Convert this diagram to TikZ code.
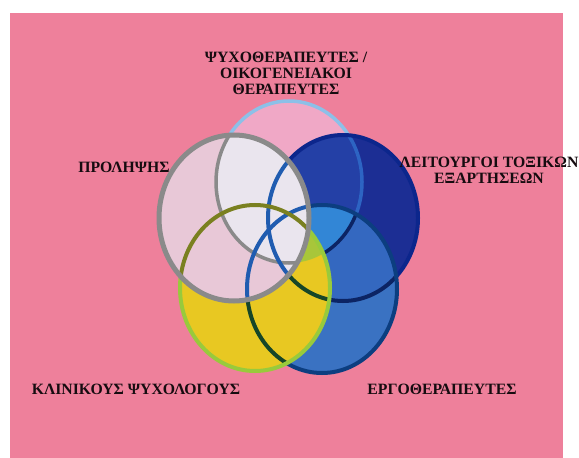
\documentclass[tikz,border=0pt]{standalone}
\usepackage{fontspec}
\setmainfont{Liberation Serif}
\definecolor{pinkbg}{RGB}{238,128,155}
\definecolor{tfillc}{RGB}{240,168,198}
\definecolor{tlinec}{RGB}{140,192,232}
\definecolor{lfillc}{RGB}{28,46,148}
\definecolor{ltfillc}{RGB}{36,64,166}
\definecolor{tinlc}{RGB}{45,100,195}
\definecolor{llinec}{RGB}{12,38,140}
\definecolor{efillc}{RGB}{58,114,194}
\definecolor{elfillc}{RGB}{52,104,192}
\definecolor{eltfillc}{RGB}{50,134,214}
\definecolor{darknavy}{RGB}{12,36,100}
\definecolor{elinec}{RGB}{12,62,128}
\definecolor{kfillc}{RGB}{232,200,34}
\definecolor{klimec}{RGB}{168,198,58}
\definecolor{darkgreen}{RGB}{22,70,40}
\definecolor{klinec}{RGB}{152,202,60}
\definecolor{pfillc}{RGB}{232,200,215}
\definecolor{pwhitec}{RGB}{234,229,238}
\definecolor{pgrayc}{RGB}{138,138,138}
\definecolor{pbluec}{RGB}{32,92,176}
\definecolor{polivec}{RGB}{122,128,32}
\definecolor{textc}{RGB}{22,12,16}
\def\ctT{(289,182) ellipse [x radius=73bp, y radius=81bp]}
\def\ctP{(234,218) ellipse [x radius=75bp, y radius=83bp]}
\def\ctL{(343,218) ellipse [x radius=75bp, y radius=83bp]}
\def\ctK{(255,288) ellipse [x radius=75bp, y radius=83bp]}
\def\ctE{(322,289) ellipse [x radius=75bp, y radius=84bp]}
\tikzset{
  ring/.style={line width=4bp},
  thinring/.style={line width=3.5bp},
  lbl/.style={font=\fontsize{15.8}{16}\selectfont\bfseries, text=textc, align=center, inner sep=0pt}
}
\begin{document}
\begin{tikzpicture}[x=1bp,y=-1bp]
\useasboundingbox (0,0) rectangle (579,458);
\fill[white] (0,0) rectangle (579,458);
\fill[pinkbg] (10,13) rectangle (563,458);
% top circle
\fill[tfillc] \ctT;
\draw[tlinec, thinring] \ctT;
% navy circle
\fill[lfillc] \ctL;
\begin{scope}
  \clip \ctL;
  \fill[ltfillc] \ctT;
  \draw[tinlc, thinring] \ctT;
\end{scope}
\draw[llinec, ring] \ctL;
% blue circle
\fill[efillc] \ctE;
\begin{scope}
  \clip \ctE;
  \fill[elfillc] \ctL;
  \begin{scope}
    \clip \ctL;
    \fill[eltfillc] \ctT;
  \end{scope}
  \draw[darknavy, ring] \ctL;
  \draw[darknavy, thinring] \ctT;
\end{scope}
\draw[elinec, ring] \ctE;
% yellow circle
\fill[kfillc] \ctK;
\begin{scope}
  \clip \ctK;
  \begin{scope}
    \clip \ctL;
    \fill[klimec] \ctT;
  \end{scope}
  \draw[darkgreen, ring] \ctE;
  \draw[darkgreen, ring] \ctL;
\end{scope}
\draw[klinec, ring] \ctK;
% gray circle
\fill[pfillc] \ctP;
\begin{scope}
  \clip \ctP;
  \fill[pwhitec] \ctT;
  \fill[pwhitec] \ctL;
  \draw[pgrayc, thinring] \ctT;
  \draw[pbluec, ring] \ctL;
  \draw[pbluec, ring] \ctE;
  \draw[polivec, ring] \ctK;
\end{scope}
\draw[pgrayc, line width=5bp] \ctP;
% labels
\node[lbl] (top) at (286,73) {ΨΥΧΟΘΕΡΑΠΕΥΤΕΣ /\\ΟΙΚΟΓΕΝΕΙΑΚΟΙ\\ΘΕΡΑΠΕΥΤΕΣ};
\node[lbl] (prol) at (124,167) {ΠΡΟΛΗΨΗΣ};
\node[lbl] (leit) at (489,170) {ΛΕΙΤΟΥΡΓΟΙ ΤΟΞΙΚΩΝ\\ΕΞΑΡΤΗΣΕΩΝ};
\node[lbl] (klin) at (136,389) {ΚΛΙΝΙΚΟΥΣ ΨΥΧΟΛΟΓΟΥΣ};
\node[lbl] (ergo) at (442,389) {ΕΡΓΟΘΕΡΑΠΕΥΤΕΣ};
\end{tikzpicture}
\end{document}
